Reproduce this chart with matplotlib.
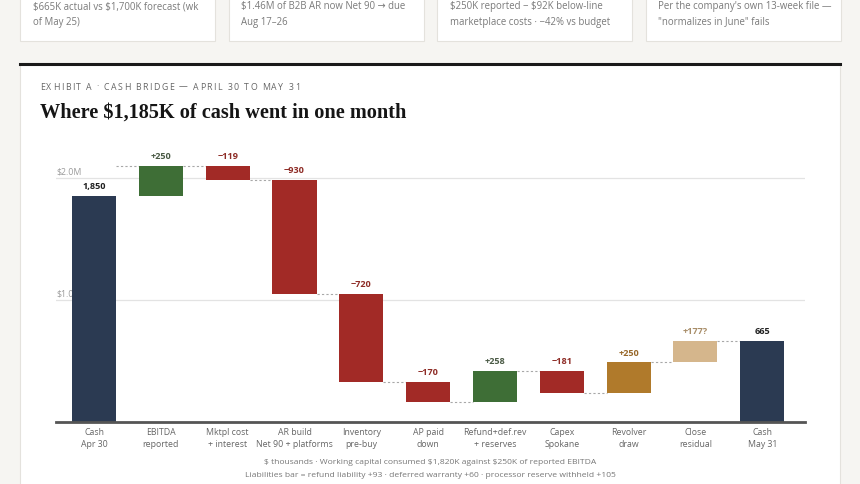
import numpy as np
import matplotlib.pyplot as plt
from matplotlib.patches import Rectangle
from matplotlib.font_manager import FontProperties

plt.rcParams["text.parse_math"] = False

# ---- data ($ thousands) ----
steps = ["Cash\nApr 30", "EBITDA\nreported", "Mktpl cost\n+ interest", "AR build\nNet 90 + platforms",
         "Inventory\npre-buy", "AP paid\ndown", "Refund+def.rev\n+ reserves", "Capex\nSpokane",
         "Revolver\ndraw", "Close\nresidual", "Cash\nMay 31"]
start_cash = 1850
deltas = [250, -119, -930, -720, -170, 258, -181, 250, 177]
delta_labels = ["+250", "\u2212119", "\u2212930", "\u2212720", "\u2212170", "+258", "\u2212181", "+250", "+177?"]
end_cash = 665
kinds = ["total", "pos", "neg", "neg", "neg", "neg", "pos", "neg", "draw", "resid", "total"]

cards = [
    ["$665K actual vs $1,700K forecast (wk", "of May 25)"],
    ["$1.46M of B2B AR now Net 90 \u2192 due", "Aug 17\u201326"],
    ["$250K reported \u2212 $92K below-line", "marketplace costs \u00b7 \u221242% vs budget"],
    ["Per the company's own 13-week file \u2014", "\"normalizes in June\" fails"],
]
notes = ["$ thousands \u00b7 Working capital consumed $1,820K against $250K of reported EBITDA",
         "Liabilities bar = refund liability +93 \u00b7 deferred warranty +60 \u00b7 processor reserve withheld +105"]

fill = {"total": "#2b3a52", "pos": "#3e6e36", "neg": "#a22a26", "draw": "#b07a2b", "resid": "#d5b68c"}
txt = {"total": "#1f1f1f", "pos": "#4a5a45", "neg": "#8e2c26", "draw": "#98682a", "resid": "#a88d68"}

W, H = 860, 484
fig = plt.figure(figsize=(W / 100, H / 100), dpi=100)
fig.patch.set_facecolor("#f6f5f2")

def px(x, y):
    return x / W, 1 - y / H

def box(x0, y0, x1, y1, **kw):
    fig.add_artist(Rectangle(px(x0, y1), (x1 - x0) / W, (y1 - y0) / H,
                             transform=fig.transFigure, zorder=-5, **kw))

sans = ["Open Sans", "DejaVu Sans"]

# cards at top
for i, c in enumerate(cards):
    x0 = 20 + i * 208.5
    box(x0, -5, x0 + 195, 41, facecolor="white", edgecolor="#e4e2dd", lw=0.8)
    for k, line in enumerate(c):
        fig.text(*px(x0 + 13, 7 + k * 15), line, fontsize=6.9, color="#7a7a7a",
                 family=sans, va="center")

# main panel
box(20, 63, 840, 490, facecolor="white", edgecolor="#e4e2dd", lw=0.8)
fig.add_artist(plt.Line2D([20 / W, 840 / W], [1 - 63.5 / H] * 2, color="#1a1a1a", lw=2.2,
                          transform=fig.transFigure))

# letter-spaced kicker
kicker = "EXHIBIT A \u00b7 CASH BRIDGE \u2014 APRIL 30 TO MAY 31"
r = fig.canvas.get_renderer()
kp = FontProperties(family=sans, size=6.3)
xx = 40.0
for ch in kicker:
    fig.text(*px(xx, 87), ch, fontproperties=kp, color="#666666", va="center")
    w = r.get_text_width_height_descent(ch, kp, ismath=False)[0]
    xx += w + 1.45

fig.text(*px(40, 113), "Where $1,185K of cash went in one month", fontsize=14.6,
         fontweight="bold", family=["Liberation Serif", "DejaVu Serif"], color="#151515", va="center")

# waterfall axes
ax = fig.add_axes([56 / W, 62 / H, (805 - 56) / W, (422 - 147.5) / H])
ax.set_xlim(-0.57, 10.64)
ax.set_ylim(0, 2250)
ax.axis("off")

for g in [1000, 2000]:
    ax.axhline(g, color="#e3e3e3", lw=0.9, zorder=0)
    ax.text(-0.57, g + 15, "$%.1fM" % (g / 1000), fontsize=6.3, color="#9a9a9a",
            family=sans, va="bottom", zorder=0)

x = np.arange(len(steps))
bw = 0.66
levels = [start_cash]
for d in deltas:
    levels.append(levels[-1] + d)

# totals
for i, val in [(0, start_cash), (len(steps) - 1, end_cash)]:
    ax.bar(x[i], val, bw, color=fill["total"], zorder=2)
    ax.text(x[i], val + 40, f"{val:,}", ha="center", va="bottom", fontsize=6.6,
            fontweight="bold", color=txt["total"], family=sans)

# steps
for j, d in enumerate(deltas):
    i = j + 1
    lo, hi = sorted([levels[j], levels[j + 1]])
    ax.bar(x[i], hi - lo, bw, bottom=lo, color=fill[kinds[i]], zorder=2)
    ax.text(x[i], hi + 40, delta_labels[j], ha="center", va="bottom", fontsize=6.6,
            fontweight="bold", color=txt[kinds[i]], family=sans)

# dotted connectors
conn = [levels[1]] + levels[1:]
for i in range(len(steps) - 1):
    ax.plot([x[i] + bw / 2, x[i + 1] - bw / 2], [conn[i]] * 2, color="#a8a8a8",
            lw=0.8, ls=(0, (2, 2)), zorder=1)

ax.plot([-0.57, 10.64], [0, 0], color="#555555", lw=2, zorder=3, clip_on=False)

for i, s in enumerate(steps):
    ax.text(x[i], -50, s, ha="center", va="top", fontsize=6.3, color="#666666",
            family=sans, linespacing=1.45)

for k, n in enumerate(notes):
    fig.text(*px(430, 463 + k * 12.5), n, ha="center", va="center", fontsize=6.1,
             color="#777777", family=sans)

fig.savefig("out.png", dpi=100, facecolor=fig.get_facecolor())
